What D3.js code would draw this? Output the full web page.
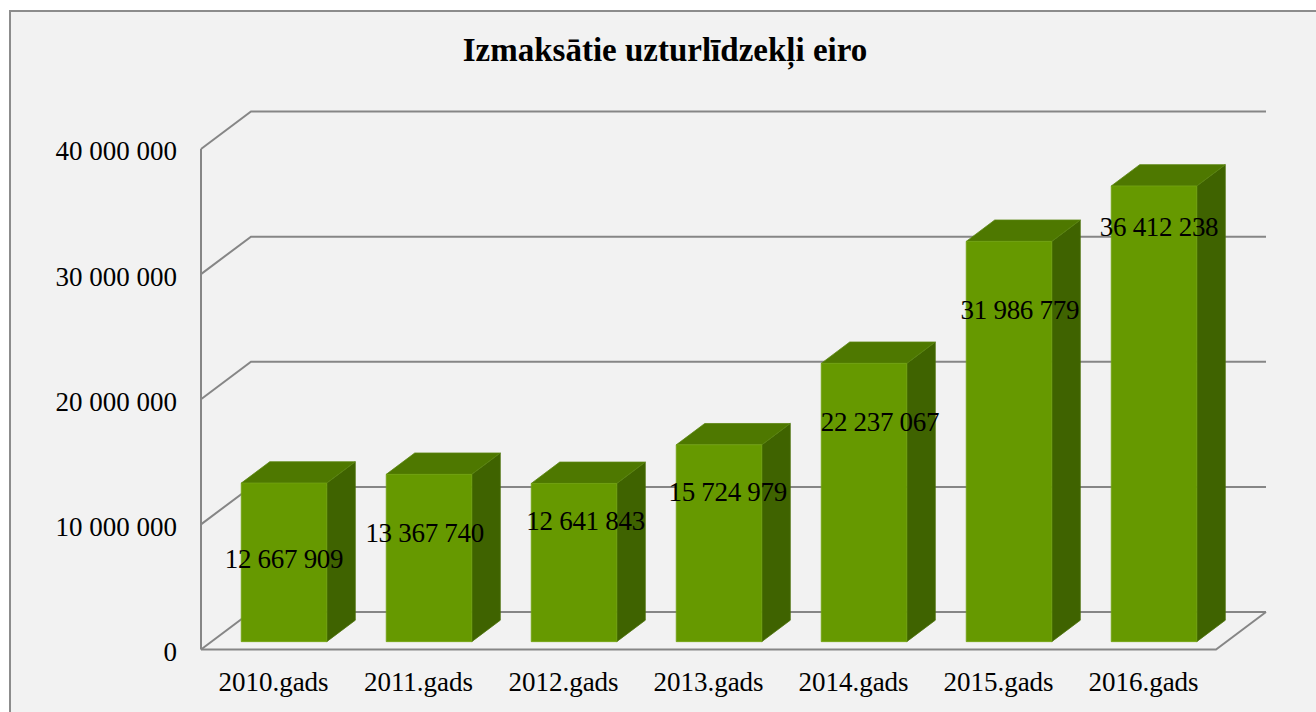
<!DOCTYPE html>
<html>
<head>
<meta charset="utf-8">
<script src="https://cdn.jsdelivr.net/npm/d3@7"></script>
<style>
  html, body { margin: 0; padding: 0; background: #ffffff; }
  svg { display: block; }
</style>
</head>
<body>
<svg id="chart" width="1316" height="712"></svg>
<script>
// ---- data ----
const title = "Izmaksātie uzturlīdzekļi eiro";
const categories = ["2010.gads", "2011.gads", "2012.gads", "2013.gads", "2014.gads", "2015.gads", "2016.gads"];
const values = [12667909, 13367740, 12641843, 15724979, 22237067, 31986779, 36412238];
const valueLabels = ["12 667 909", "13 367 740", "12 641 843", "15 724 979", "22 237 067", "31 986 779", "36 412 238"];
// where each data label sits (value units along the bar, and sideways share of a category step)
const labelAnchor = [6600000, 8680000, 9640000, 11960000, 17550000, 26500000, 33140000];
const labelShift = [0, -0.03, 0.08, 0.06, 0.11, 0.075, 0.035];
const tickValues = [0, 10000000, 20000000, 30000000, 40000000];
const tickLabels = ["0", "10 000 000", "20 000 000", "30 000 000", "40 000 000"];

// ---- layout ----
const svg = d3.select("#chart");
const W = 1316, H = 712;
const depth = { dx: 50, dy: -37.5 };   // floor/wall depth vector
const barT0 = 0.21, barT1 = 0.78;        // bar depth span (share of full depth)
const serif = "'Liberation Serif', 'Times New Roman', serif";
const gridColor = "#868686";

const x = d3.scaleBand().domain(categories).range([201, 1216])
  .paddingInner(0.41).paddingOuter(0.205);
const y = d3.scaleLinear().domain([0, 40000000]).range([649.5, 149]);

const P = (px, v, t) => [px + t * depth.dx, y(v) + t * depth.dy];

// chart area background + border
svg.append("rect").attr("x", 0).attr("y", 0).attr("width", W).attr("height", H).attr("fill", "#ffffff");
svg.append("rect").attr("x", 10).attr("y", 11).attr("width", W + 20).attr("height", H + 20)
  .attr("fill", "#f2f2f2").attr("stroke", "#8c8c8c").attr("stroke-width", 2);

// title
svg.append("text").attr("x", 665).attr("y", 61).attr("text-anchor", "middle")
  .attr("font-family", serif).attr("font-weight", "bold").attr("font-size", 33)
  .attr("fill", "#000").text(title);

const grid = svg.append("g").attr("fill", "none").attr("stroke", gridColor).attr("stroke-width", 2);
const line = d3.line();
const [xL, xR] = x.range();

// back wall gridlines + side wall diagonals
tickValues.forEach(v => {
  grid.append("path").attr("d", line([P(xL, v, 0), P(xL, v, 1), P(xR, v, 1)]));
});
// front vertical axis
grid.append("path").attr("d", line([P(xL, 0, 0), P(xL, 40000000, 0)]));
// floor front edge and right edge
grid.append("path").attr("d", line([P(xL, 0, 0), P(xR, 0, 0), P(xR, 0, 1)]));

// y tick labels
svg.append("g").selectAll("text").data(tickValues).join("text")
  .attr("x", 177).attr("y", d => y(d) + 2).attr("dy", "0.35em")
  .attr("text-anchor", "end").attr("font-family", serif).attr("font-size", 27)
  .attr("fill", "#000").text((d, i) => tickLabels[i]);

// category labels
svg.append("g").selectAll("text").data(categories).join("text")
  .attr("x", d => x(d) - x.step() * x.paddingOuter() + x.step() / 2)
  .attr("y", 691).attr("text-anchor", "middle").attr("font-family", serif).attr("font-size", 27)
  .attr("fill", "#000").text(d => d);

// bars
const bars = svg.append("g").selectAll("g").data(categories).join("g");
const poly = pts => "M" + pts.map(p => p.join(",")).join("L") + "Z";
bars.each(function (c, i) {
  const g = d3.select(this);
  const xa = x(c), xb = x(c) + x.bandwidth(), v = values[i];
  // side face
  g.append("path").attr("d", poly([P(xb, 0, barT0), P(xb, 0, barT1), P(xb, v, barT1), P(xb, v, barT0)]))
    .attr("fill", "#3f6300").attr("stroke", "#4a7008").attr("stroke-width", 0.8);
  // top face
  g.append("path").attr("d", poly([P(xa, v, barT0), P(xb, v, barT0), P(xb, v, barT1), P(xa, v, barT1)]))
    .attr("fill", "#4e7800").attr("stroke", "#5b8510").attr("stroke-width", 0.8);
  // front face
  g.append("path").attr("d", poly([P(xa, 0, barT0), P(xb, 0, barT0), P(xb, v, barT0), P(xa, v, barT0)]))
    .attr("fill", "#669900").attr("stroke", "#72a310").attr("stroke-width", 0.8);
});

// data labels
svg.append("g").selectAll("text").data(categories).join("text")
  .attr("x", (c, i) => P(x(c) + x.bandwidth() / 2 + labelShift[i] * x.step(), 0, barT0)[0])
  .attr("y", (c, i) => P(0, labelAnchor[i], barT0)[1]).attr("dy", "0.35em")
  .attr("text-anchor", "middle").attr("font-family", serif).attr("font-size", 27)
  .attr("letter-spacing", -0.3)
  .attr("fill", "#000").text((c, i) => valueLabels[i]);
</script>
</body>
</html>
